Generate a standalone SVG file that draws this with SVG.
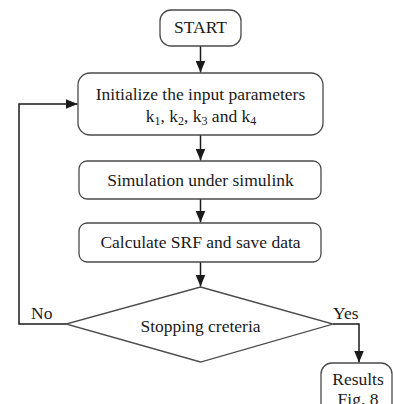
<svg xmlns="http://www.w3.org/2000/svg" width="393" height="404" viewBox="0 0 393 404">
<defs>
<style>
.box{fill:#fff;stroke:#4a4a4a;stroke-width:1.3}
.t{font-family:"Liberation Serif","Times New Roman",serif;font-size:17.5px;fill:#1a1a1a;text-anchor:middle}
.tl{font-family:"Liberation Serif","Times New Roman",serif;font-size:17.5px;fill:#1a1a1a}
.sub{font-size:12px}
.c{fill:none;stroke:#1a1a1a;stroke-width:1.5}
</style>
<marker id="ah" viewBox="0 0 12 10" refX="12" refY="5" markerWidth="12" markerHeight="10" markerUnits="userSpaceOnUse" orient="auto">
<path d="M0,0 L12,5 L0,10 Z" fill="#1a1a1a"/>
</marker>
</defs>
<rect width="393" height="404" fill="#fff"/>
<g id="connectors">
<line class="c" x1="200.5" y1="46" x2="200.5" y2="72.5" marker-end="url(#ah)"/>
<line class="c" x1="200.5" y1="135" x2="200.5" y2="160.5" marker-end="url(#ah)"/>
<line class="c" x1="200.5" y1="199" x2="200.5" y2="222.5" marker-end="url(#ah)"/>
<line class="c" x1="200.5" y1="262" x2="200.5" y2="286.5" marker-end="url(#ah)"/>
<polyline class="c" points="66,324 19,324 19,104 77.5,104" marker-end="url(#ah)"/>
<polyline class="c" points="333,324 359,324 359,362.5" marker-end="url(#ah)"/>
<text class="tl" x="31" y="319">No</text>
<text class="tl" x="333" y="319">Yes</text>
</g>
<g id="start">
<rect class="box" x="160" y="10" width="81" height="36" rx="11"/>
<text class="t" x="200.5" y="33">START</text>
</g>
<g id="init">
<rect class="box" x="78" y="73" width="245" height="62" rx="12"/>
<text class="t" x="200.5" y="100">Initialize the input parameters</text>
<text class="t" x="201" y="122">k<tspan class="sub" dy="3">1</tspan><tspan dy="-3">, k</tspan><tspan class="sub" dy="3">2</tspan><tspan dy="-3">, k</tspan><tspan class="sub" dy="3">3</tspan><tspan dy="-3"> and k</tspan><tspan class="sub" dy="3">4</tspan></text>
</g>
<g id="simulation">
<rect class="box" x="79" y="161" width="242" height="38" rx="8"/>
<text class="t" x="200.5" y="186">Simulation under simulink</text>
</g>
<g id="calculate">
<rect class="box" x="79" y="223" width="242" height="39" rx="8"/>
<text class="t" x="200.5" y="248">Calculate SRF and save data</text>
</g>
<g id="decision">
<polygon class="box" points="200.5,287 333,324 200.5,362 66,324"/>
<text class="t" x="200.5" y="332">Stopping creteria</text>
</g>
<g id="results">
<rect class="box" x="321" y="363" width="71" height="60" rx="11"/>
<text class="t" x="358" y="385">Results</text>
<text class="t" x="358" y="405">Fig. 8</text>
</g>
</svg>
